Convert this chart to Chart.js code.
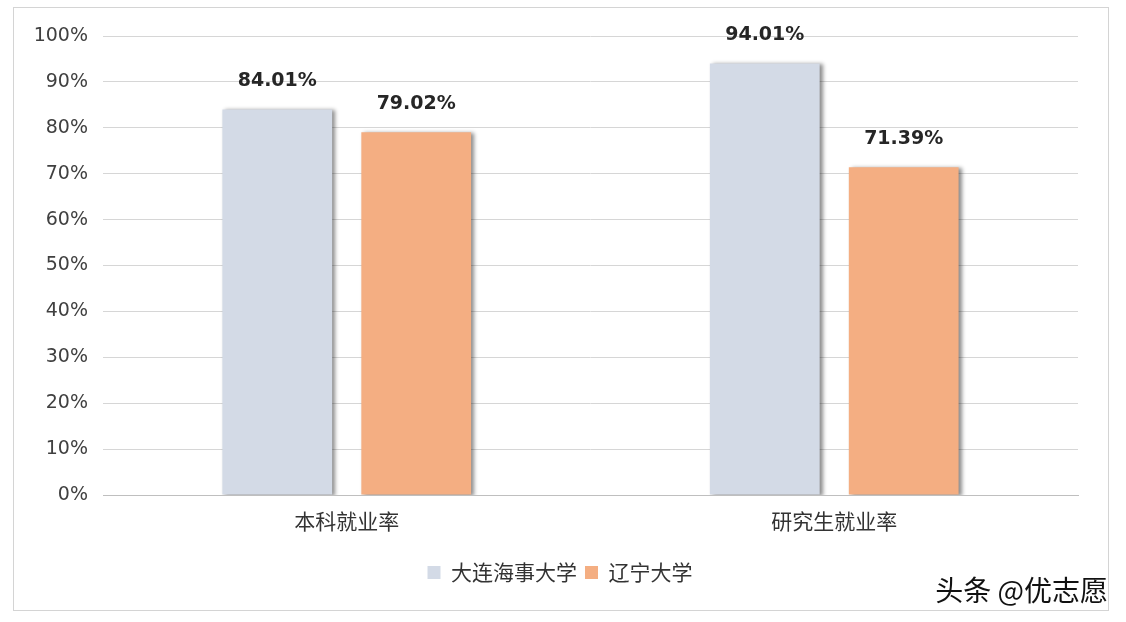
<!DOCTYPE html>
<html><head><meta charset="utf-8">
<script src="https://cdn.jsdelivr.net/npm/chart.js@4/dist/chart.umd.min.js"></script>
<style>
html,body{margin:0;padding:0;background:#fff;}
#wrap{position:absolute;left:0;top:0;width:1126px;height:622px;}
</style></head>
<body><div id="wrap"><canvas id="c" width="1126" height="622"></canvas></div>
<script>
const categories = ['本科就业率', '研究生就业率'];
const seriesNames = ['大连海事大学', '辽宁大学'];
const dalianValues = [84.01, 94.01];
const liaoningValues = [79.02, 71.39];
const yTicks = [0, 10, 20, 30, 40, 50, 60, 70, 80, 90, 100];
const colors = ['#d3dae6', '#f4ae82'];
const FONT = '"Noto Sans CJK SC", "Noto Sans", sans-serif';
const NUMFONT = '"DejaVu Sans", sans-serif';

const frame = {
  id: 'frame',
  beforeDraw(chart) {
    const ctx = chart.ctx;
    ctx.save();
    ctx.fillStyle = '#fff';
    ctx.fillRect(0, 0, chart.width, chart.height);
    ctx.strokeStyle = '#d4d4d4';
    ctx.lineWidth = 1;
    ctx.strokeRect(13.5, 7.5, 1095, 603);
    ctx.restore();
  },
  afterDraw(chart) {
    const ctx = chart.ctx;
    ctx.save();
    ctx.font = '28px ' + FONT;
    ctx.fillStyle = '#111';
    ctx.textAlign = 'right';
    ctx.textBaseline = 'middle';
    ctx.fillText('头条 @优志愿', 1108, 590);
    ctx.restore();
  }
};

const shadow = {
  id: 'shadow',
  beforeDatasetsDraw(chart) {
    const ctx = chart.ctx;
    ctx.save();
    ctx.shadowColor = 'rgba(0,0,0,0.45)';
    ctx.shadowOffsetX = 3;
    ctx.shadowOffsetY = 1;
    ctx.shadowBlur = 4;
  },
  afterDatasetsDraw(chart) {
    chart.ctx.restore();
  }
};

const labels = {
  id: 'labels',
  afterDatasetsDraw(chart) {
    const ctx = chart.ctx;
    ctx.save();
    ctx.font = 'bold 19px ' + NUMFONT;
    ctx.fillStyle = '#262626';
    ctx.textAlign = 'center';
    ctx.textBaseline = 'middle';
    chart.data.datasets.forEach((ds, i) => {
      chart.getDatasetMeta(i).data.forEach((el, j) => {
        ctx.fillText(ds.data[j].toFixed(2) + '%', el.x, el.y - 28);
      });
    });
    ctx.restore();
  }
};

new Chart(document.getElementById('c'), {
  type: 'bar',
  data: {
    labels: categories,
    datasets: [
      { label: seriesNames[0], data: dalianValues, backgroundColor: colors[0] },
      { label: seriesNames[1], data: liaoningValues, backgroundColor: colors[1] }
    ]
  },
  options: {
    responsive: false,
    animation: false,
    devicePixelRatio: 1,
    layout: { padding: { left: 0, right: 6, top: 36, bottom: 29 } },
    datasets: { bar: { categoryPercentage: 0.57, barPercentage: 0.79 } },
    plugins: {
      tooltip: { enabled: false },
      legend: {
        position: 'bottom',
        labels: {
          font: { size: 21, family: FONT },
          color: '#333',
          boxWidth: 13, boxHeight: 13,
          padding: 8
        }
      }
    },
    scales: {
      y: {
        min: 0, max: 100,
        afterFit(s) { s.width = 103; },
        afterBuildTicks(s) { s.ticks = yTicks.map(v => ({ value: v })); },
        grid: { color: '#d6d6d6', drawTicks: false },
        border: { display: false },
        ticks: {
          padding: 15,
          color: '#404040',
          font: { size: 19, family: NUMFONT },
          callback: v => v + '%'
        }
      },
      y2: {
        type: 'linear',
        position: 'right',
        min: 0, max: 100,
        afterFit(s) { s.width = 42; },
        grid: { display: false, drawTicks: false },
        border: { display: false },
        ticks: { display: false }
      },
      x: {
        afterFit(s) { s.height = 59; },
        grid: { display: false, drawTicks: false },
        border: { display: true, color: '#bfbfbf' },
        ticks: {
          padding: 13,
          color: '#333',
          font: { size: 21, family: FONT }
        }
      }
    }
  },
  plugins: [frame, shadow, labels]
});
</script></body></html>
